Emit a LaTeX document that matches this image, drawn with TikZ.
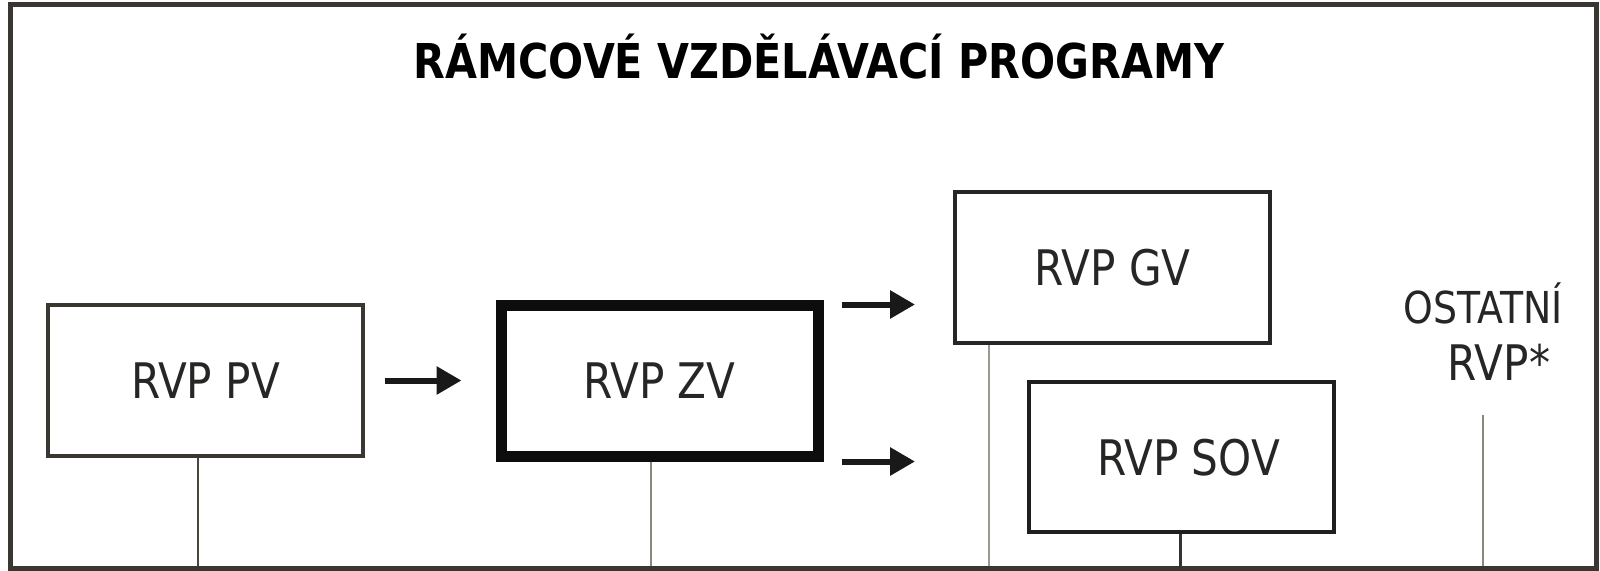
\documentclass[tikz,border=0pt]{standalone}
\usepackage{fontspec}
\setmainfont{DejaVu Sans}[FakeStretch=0.86]
\usetikzlibrary{arrows.meta}
\definecolor{frm}{HTML}{3A3731}
\definecolor{txt}{HTML}{262624}
\definecolor{lnA}{HTML}{4A463C}
\definecolor{lnB}{HTML}{8A877C}
\begin{document}
\begin{tikzpicture}[x=1pt,y=-1pt,
  box/.style={draw=#1, fill=white, inner sep=0pt, text=txt,
    font=\fontsize{49}{57}\selectfont, text height=36pt, text depth=0pt},
  thinbox/.style={box=frm, line width=4pt},
  arr/.style={draw=black!90, line width=6pt, -{Triangle[length=25pt,width=27pt]}},
  vline/.style={draw=#1, line width=2.5pt},
  lbl/.style={text=txt, inner sep=0pt, anchor=base}]
\useasboundingbox (0,0) rectangle (1600,570);
\coordinate (bot) at (0,568);
% title
\node[lbl, font=\bfseries\fontsize{48}{48}\selectfont, text=black] (title) at (819,78) {RÁMCOVÉ VZDĚLÁVACÍ PROGRAMY};
% boxes
\node[thinbox, minimum width=315, minimum height=151] (PV) at (205.5,380.5) {RVP PV};
\node[box=black!95, line width=11pt, minimum width=317, minimum height=151] (ZV) at (659.5,380.5) {RVP ZV};
\node[thinbox, draw=black!85, minimum width=315, minimum height=151] (GV) at (1112.5,267.5) {RVP GV};
\node[thinbox, draw=black!88, minimum width=305, minimum height=150] (SOV) at (1181.5,457) {\hspace{14pt}RVP SOV};
% other
\node[lbl, font=\fontsize{44}{44}\selectfont] (ostA) at (1483,323) {OSTATNÍ};
\node[lbl, font=\fontsize{49}{49}\selectfont] (ostB) at (1499,380) {RVP*};
% arrows
\draw[arr] ([xshift=20pt]PV.east) -- ([xshift=-34pt]ZV.west);
\path ([shift={(18,5)}]ZV.north east) coordinate (a1);
\path ([shift={(18,0)}]ZV.south east) coordinate (a2);
\draw[arr] (a1) -- ([xshift=-38pt]a1 -| GV.west);
\draw[arr] (a2) -- ([xshift=-38pt]a2 -| GV.west);
% vertical lines
\draw[vline=lnA] ([xshift=-7.5pt]PV.south) -- ([xshift=-7.5pt]PV.south |- bot);
\draw[vline=lnB] ([xshift=-8.5pt]ZV.south) -- ([xshift=-8.5pt]ZV.south |- bot);
\draw[vline=lnB!85] ([xshift=36pt]GV.south west) -- ([xshift=36pt]GV.south west |- bot);
\draw[vline=black!80, line width=3pt] ([xshift=-1.5pt]SOV.south) -- ([xshift=-1.5pt]SOV.south |- bot);
\path ([yshift=-35pt]ostB.base) coordinate (o1);
\draw[vline=lnB] (o1 -| ostA) -- (ostA |- bot);
% frame
\draw[draw=frm, line width=5pt] (10,4) rectangle (1596,568);
\end{tikzpicture}
\end{document}
